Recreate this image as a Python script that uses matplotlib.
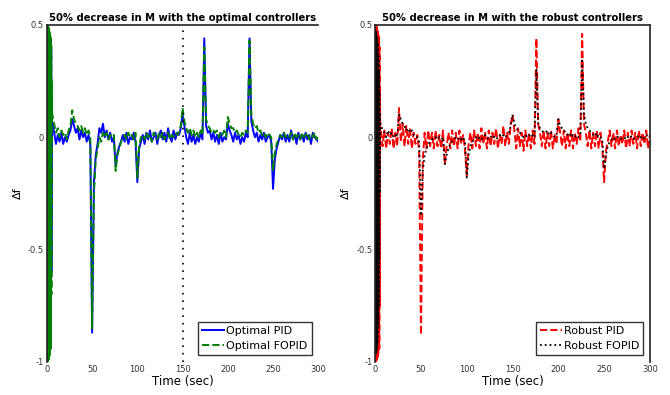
import numpy as np
import matplotlib
matplotlib.use('Agg')
import matplotlib.pyplot as plt

# time grid: fast start-up oscillation, then 2 s samples
t_osc = np.arange(0, 5.51, 0.25)
t_main = np.arange(6, 301, 2)
t = np.concatenate([t_osc, t_main])

# start-up oscillation (0..5.5 s)
osc_pid_opt = [0.0, 0.5, -1.0, 0.5, -0.99, 0.49, -0.98, 0.48, -0.97, 0.47, -0.96,
               0.46, -0.95, 0.45, -0.94, 0.44, -0.93, 0.43, -0.92, 0.4, -0.6, 0.15, 0.06]
osc_fopid_opt = [0.0, 0.5, -1.0, 0.5, -1.0, 0.5, -0.99, 0.49, -0.99, 0.48, -0.98,
                 0.47, -0.97, 0.46, -0.96, 0.45, -0.95, 0.44, -0.94, 0.42, -0.7, 0.25, 0.12]
osc_pid_rob = [0.0, 0.5, -1.0, 0.5, -1.0, 0.5, -0.99, 0.49, -0.99, 0.48, -0.98,
               0.47, -0.97, 0.46, -0.96, 0.45, -0.95, 0.44, -0.94, 0.4, -0.75, 0.2, 0.05]
osc_fopid_rob = [0.0, 0.48, -0.97, 0.47, -0.96, 0.46, -0.95, 0.45, -0.94, 0.44, -0.92,
                 0.42, -0.9, 0.4, -0.85, 0.36, -0.75, 0.3, -0.55, 0.2, -0.25, 0.1, 0.06]

# Optimal PID (6..300 s)
pid_opt = [0.06, 0.02, -0.03, 0.01, -0.02, 0.02, -0.03, 0.0, -0.02, 0.01,
           0.03, 0.08, 0.05, 0.02, 0.04, -0.01, 0.03, 0.0, 0.02, -0.02,
           0.01, -0.03, -0.87, -0.2, -0.08, -0.03, 0.04, 0.02, 0.06, 0.0,
           0.03, -0.01, 0.02, -0.02, 0.0, -0.13, -0.07, -0.04, -0.02, 0.01,
           -0.02, 0.02, -0.03, 0.0, -0.01, 0.02, -0.02, -0.2, -0.05, -0.02,
           0.01, -0.03, 0.02, -0.01, 0.03, -0.02, 0.0, 0.02, -0.03, 0.01,
           0.03, -0.01, 0.02, -0.02, 0.04, 0.0, -0.02, 0.03, -0.01, 0.02,
           0.01, 0.04, 0.1, 0.05, 0.0, -0.03, 0.02, -0.02, 0.01, -0.03,
           0.0, -0.02, 0.02, -0.01, 0.44, 0.05, 0.02, 0.03, -0.01, 0.02,
           -0.02, 0.01, -0.03, 0.02, -0.02, 0.0, -0.01, 0.06, 0.03, 0.01,
           -0.02, 0.02, -0.01, 0.01, -0.03, 0.0, -0.02, 0.02, 0.0, 0.44,
           0.07, 0.03, 0.0, 0.02, -0.02, 0.01, -0.01, 0.02, -0.02, 0.0,
           0.01, -0.02, -0.23, -0.1, -0.05, -0.02, 0.01, -0.01, 0.02, -0.02,
           0.01, -0.02, 0.03, -0.01, 0.01, -0.03, 0.02, -0.01, 0.01, -0.02,
           0.02, -0.01, 0.01, -0.03, 0.02, 0.0, -0.01, -0.02]

# Optimal FOPID
fopid_opt = [0.1, 0.06, 0.02, 0.04, 0.0, 0.03, 0.01, 0.02, -0.01, 0.03,
             0.05, 0.12, 0.08, 0.06, 0.05, 0.03, 0.05, 0.02, 0.04, 0.01,
             0.03, 0.0, -0.85, -0.25, -0.1, -0.05, 0.0, -0.02, 0.02, 0.0,
             0.02, -0.01, 0.01, 0.0, 0.01, -0.15, -0.08, -0.05, -0.02, 0.0,
             0.01, -0.01, 0.02, 0.0, 0.01, -0.01, 0.02, -0.18, -0.04, 0.0,
             0.01, -0.01, 0.02, 0.0, 0.01, -0.02, 0.02, 0.0, -0.01, 0.02,
             0.0, 0.02, -0.01, 0.01, 0.02, -0.01, 0.01, 0.0, 0.02, 0.01,
             0.02, 0.05, 0.13, 0.07, 0.04, 0.02, 0.04, 0.01, 0.03, 0.0,
             0.02, 0.0, 0.03, 0.01, 0.4, 0.08, 0.05, 0.04, 0.02, 0.03,
             0.02, 0.03, 0.0, 0.02, 0.01, 0.03, 0.0, 0.09, 0.06, 0.04,
             0.04, 0.02, 0.03, 0.01, 0.0, 0.02, 0.01, 0.03, 0.02, 0.43,
             0.1, 0.06, 0.04, 0.05, 0.02, 0.03, 0.01, 0.02, 0.0, 0.02,
             0.01, 0.0, -0.15, -0.07, -0.03, -0.01, 0.01, 0.0, 0.02, 0.0,
             0.01, 0.0, 0.02, -0.01, 0.02, 0.0, 0.01, -0.01, 0.02, 0.0,
             0.01, 0.02, -0.01, 0.01, 0.0, 0.02, -0.01, 0.0]

# Robust PID
pid_rob = [0.04, -0.04, 0.03, -0.05, 0.02, -0.03, 0.04, -0.05, 0.02, -0.04,
           0.13, -0.02, 0.06, -0.04, 0.05, -0.03, 0.04, -0.05, 0.02, -0.03,
           0.01, -0.06, -0.88, -0.1, 0.02, -0.05, 0.03, -0.04, 0.02, -0.05,
           0.03, -0.04, 0.01, -0.05, 0.03, -0.12, -0.04, 0.02, -0.05, 0.03,
           -0.04, 0.02, -0.05, 0.03, -0.03, 0.01, -0.05, -0.17, -0.03, 0.02,
           -0.05, 0.03, -0.04, 0.02, -0.05, 0.04, -0.03, 0.02, -0.05, 0.03,
           -0.04, 0.02, -0.03, 0.04, -0.05, 0.01, -0.03, 0.05, -0.04, 0.02,
           -0.03, 0.06, 0.1, 0.03, -0.05, 0.04, -0.04, 0.02, -0.06, 0.03,
           -0.04, 0.02, -0.05, 0.03, -0.03, 0.44, 0.06, 0.02, -0.04, 0.03,
           -0.05, 0.02, -0.04, 0.03, -0.05, 0.01, -0.03, 0.08, 0.02, -0.04,
           0.03, -0.05, 0.02, -0.04, 0.03, -0.05, 0.02, -0.03, 0.04, -0.02,
           0.46, 0.06, 0.02, -0.04, 0.03, -0.05, 0.02, -0.04, 0.03, -0.05,
           0.02, -0.04, -0.2, -0.06, -0.02, 0.03, -0.04, 0.02, -0.05, 0.03,
           -0.04, 0.01, -0.03, 0.03, -0.05, 0.02, -0.04, 0.03, -0.03, 0.02,
           -0.05, 0.03, -0.04, 0.02, -0.03, 0.03, -0.05, 0.01]

# Robust FOPID
fopid_rob = [0.06, 0.03, 0.02, 0.0, 0.03, 0.01, 0.02, 0.0, 0.01, 0.0,
             0.1, 0.08, 0.06, 0.05, 0.03, 0.04, 0.02, 0.03, 0.01, 0.0,
             0.0, -0.02, -0.35, -0.15, -0.08, -0.05, -0.03, -0.02, -0.01, 0.0,
             0.0, -0.01, 0.0, -0.01, 0.0, -0.12, -0.08, -0.05, -0.03, -0.02,
             -0.01, 0.0, -0.01, 0.0, -0.01, 0.0, -0.02, -0.18, -0.08, -0.04,
             -0.02, -0.01, 0.0, -0.01, 0.0, -0.01, 0.0, 0.01, 0.0, -0.01,
             0.0, 0.01, 0.0, -0.01, 0.0, 0.01, 0.0, 0.01, 0.0, 0.01,
             0.02, 0.05, 0.1, 0.06, 0.04, 0.03, 0.02, 0.01, 0.0, 0.01,
             0.0, 0.01, 0.0, 0.01, 0.0, 0.3, 0.06, 0.04, 0.03, 0.02,
             0.02, 0.03, 0.01, 0.02, 0.01, 0.0, 0.01, 0.08, 0.05, 0.04,
             0.03, 0.02, 0.01, 0.02, 0.0, 0.01, 0.0, 0.01, 0.0, 0.01,
             0.35, 0.1, 0.06, 0.04, 0.03, 0.02, 0.01, 0.02, 0.0, 0.01,
             0.0, -0.01, -0.14, -0.08, -0.04, -0.02, -0.01, 0.0, -0.01, 0.0,
             0.0, -0.01, 0.0, 0.0, -0.01, 0.0, 0.01, 0.0, -0.01, 0.0,
             0.0, 0.01, 0.0, -0.01, 0.0, 0.01, 0.0, 0.0]

xticks = [0, 50, 100, 150, 200, 250, 300]
yticks = [-1, -0.5, 0, 0.5]
ytick_labels = ['-1', '-0.5', '0', '0.5']


def style_axes(ax, title, right_spine):
    ax.set_xlim(0, 300)
    ax.set_ylim(-1, 0.5)
    ax.set_xticks(xticks)
    ax.set_yticks(yticks)
    ax.set_yticklabels(ytick_labels)
    ax.tick_params(direction='in', length=0, labelsize=6, colors='#333333', pad=2)
    ax.spines['bottom'].set_visible(False)
    ax.spines['right'].set_visible(right_spine)
    for s in ['left', 'top', 'right']:
        ax.spines[s].set_linewidth(1.2)
        ax.spines[s].set_color('#222222')
    ax.set_title(title, fontsize=7.2, fontweight='bold', pad=3)
    ax.set_xlabel('Time (sec)', fontsize=8.5, labelpad=1)
    ax.set_ylabel('Δf', fontsize=8, labelpad=4)


fig = plt.figure(figsize=(6.7, 3.95), dpi=100)
ax1 = fig.add_axes([0.070, 0.084, 0.405, 0.853])
ax2 = fig.add_axes([0.560, 0.084, 0.410, 0.853])

ax1.plot(t, osc_pid_opt + pid_opt, '-', color='blue', lw=1.4, label='Optimal PID')
ax1.plot(t, osc_fopid_opt + fopid_opt, '--', color=(0, 0.5, 0), lw=1.4, label='Optimal FOPID')
ax1.axvline(150, color='black', ls=(0, (1, 3.5)), lw=1.2)
style_axes(ax1, '50% decrease in M with the optimal controllers', False)

ax2.plot(t, osc_pid_rob + pid_rob, '--', color='red', lw=1.4, label='Robust PID')
ax2.plot(t, osc_fopid_rob + fopid_rob, ':', color='black', lw=1.3, label='Robust FOPID')
style_axes(ax2, '50% decrease in M with the robust controllers', True)

for ax in (ax1, ax2):
    leg = ax.legend(loc='lower right', fontsize=8, frameon=True, fancybox=False,
                    borderpad=0.35, handlelength=2.0, handletextpad=0.2,
                    labelspacing=0.5, borderaxespad=0.6)
    leg.get_frame().set_edgecolor('black')
    leg.get_frame().set_linewidth(1.0)

fig.savefig('out.png', dpi=100)
